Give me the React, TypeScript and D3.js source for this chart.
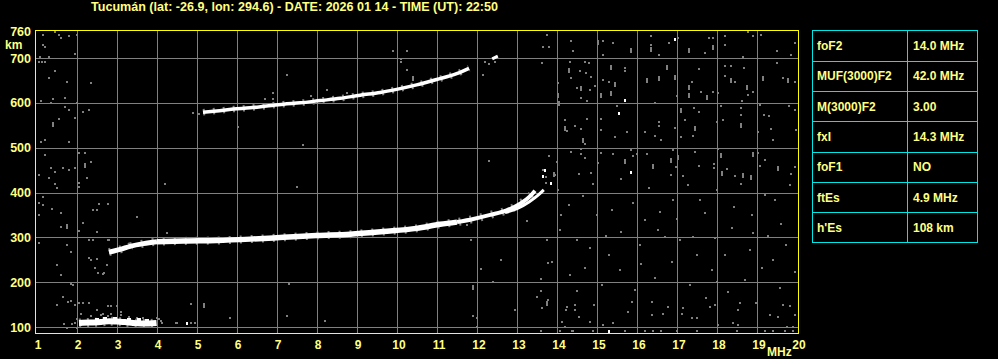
import React from 'react';
import * as d3 from 'd3';

const W = 998;
const H = 359;

const titleText = 'Tucumán (lat: -26.9, lon: 294.6) - DATE: 2026 01 14 - TIME (UT): 22:50';
const freqTicks = [1, 2, 3, 4, 5, 6, 7, 8, 9, 10, 11, 12, 13, 14, 15, 16, 17, 18, 19, 20];
const freqUnit = 'MHz';
const heightTicks = [100, 200, 300, 400, 500, 600, 700];
const heightTop = 760;
const heightUnit = 'km';

const paramNames = ['foF2', 'MUF(3000)F2', 'M(3000)F2', 'fxI', 'foF1', 'ftEs', "h'Es"];
const paramValues = ['14.0 MHz', '42.0 MHz', '3.00', '14.3 MHz', 'NO', '4.9 MHz', '108 km'];

// F2 trace (one hop), [MHz, km]
const f2Trace: [number, number][] = [
  [2.8, 267], [2.9, 269], [3.08, 273], [3.33, 280], [3.66, 286], [4.0, 290], [4.66, 292],
  [5.49, 293], [6.33, 296], [7.16, 300], [7.99, 304], [8.83, 307], [9.66, 313], [10.49, 320],
  [11.08, 329], [11.5, 334], [11.91, 341], [12.33, 350], [12.74, 360], [13.08, 375], [13.33, 392], [13.45, 404],
];
// extraordinary branch near the end of the F2 trace
const f2xTrace: [number, number][] = [
  [12.7, 355], [13.0, 364], [13.3, 379], [13.55, 396], [13.67, 406],
];
// F2 second hop
const f2HopTrace: [number, number][] = [
  [5.15, 579], [5.49, 582], [5.91, 586], [6.33, 589], [6.74, 593], [7.16, 597], [7.58, 600],
  [8.08, 605], [8.58, 610], [9.08, 617], [9.58, 623], [9.99, 630], [10.49, 640], [10.99, 652],
  [11.49, 665], [11.8, 677],
];
const f2HopTail: [number, number][] = [[12.38, 698], [12.52, 704]];
// sporadic E trace
const esTrace: [number, number][] = [
  [2.05, 109], [2.3, 110], [2.6, 111], [2.8, 113], [3.0, 112], [3.2, 111], [3.4, 109], [3.6, 108], [3.8, 108], [3.99, 109],
];
const esBumps: [number, number][] = [
  [2.5, 118], [2.7, 121], [2.95, 120], [3.3, 118], [3.55, 117], [3.75, 116],
];
const esFringe: [number, number][] = [
  [2.35, 124], [2.6, 126], [2.78, 125], [2.9, 121], [3.1, 127], [3.3, 123], [3.5, 121], [3.65, 119],
  [4.05, 117], [4.12, 110], [4.5, 108], [4.95, 110], [1.95, 110], [2.1, 104], [2.0, 118],
  [1.68, 107], [1.87, 107], [1.75, 97], [2.0, 97], [2.11, 130], [2.66, 130], [2.86, 128], [3.1, 133],
  [4.0, 120], [4.1, 113], [4.48, 108], [4.86, 110],
];

// background noise
const noiseDots: [number, number][] = [
  [13.74, 752], [13.64, 725], [13.79, 725], [14.34, 739], [14.39, 716], [15.14, 739], [15.39, 734], [15.14, 707],
  [16.35, 748], [16.35, 729], [16.56, 707], [16.79, 734], [17.03, 744], [17.69, 712], [17.8, 744], [17.91, 744],
  [18.2, 748], [18.2, 729], [18.64, 703], [18.78, 757], [18.91, 748], [19.1, 751], [19.49, 716], [19.84, 707], [19.95, 733],
  [13.62, 688], [14.33, 692], [14.7, 692], [14.8, 688], [14.58, 670], [14.73, 666], [14.84, 658], [14.36, 656],
  [14.03, 644], [14.49, 632], [14.83, 629], [14.59, 611], [14.74, 603], [14.95, 638], [15.14, 651], [15.29, 647],
  [15.7, 677], [15.7, 670], [16.45, 600], [16.99, 615], [17.37, 647], [17.55, 675], [17.59, 625], [17.89, 625],
  [18.03, 621], [18.2, 682], [18.34, 682], [18.2, 660], [18.45, 647], [18.68, 677], [18.78, 617], [18.91, 625],
  [19.51, 688], [19.64, 655], [19.95, 647], [18.62, 603], [19.08, 595],
  [15.51, 593], [14.2, 562], [14.24, 538], [14.45, 548], [14.59, 541], [14.74, 565], [14.7, 508], [15.09, 565],
  [15.09, 539], [15.45, 523], [15.74, 536], [16.55, 558], [16.55, 548], [16.2, 536], [16.45, 526], [16.59, 517],
  [16.95, 543], [17.2, 562], [17.43, 588], [17.56, 580], [17.39, 526], [17.1, 523], [17.99, 558], [18.14, 562],
  [18.09, 593], [18.59, 588], [18.6, 573], [19.03, 536], [19.18, 573], [19.29, 571], [19.34, 541], [19.39, 517],
  [19.79, 593], [19.96, 584], [19.98, 539],
  [13.81, 481], [14.0, 469], [14.34, 491], [14.59, 496], [14.59, 486], [14.7, 478], [14.56, 441], [14.84, 444],
  [15.03, 465], [15.1, 487], [15.41, 486], [15.84, 495], [15.89, 481], [15.99, 486], [16.24, 486], [16.89, 495],
  [16.98, 456], [16.84, 439], [17.16, 437], [17.45, 491], [17.56, 459], [17.93, 464], [17.93, 454], [18.03, 496],
  [18.26, 452], [18.45, 437], [19.03, 489], [19.08, 459], [19.21, 472], [19.84, 441], [19.95, 456],
  [13.73, 421], [14.03, 406], [14.3, 372], [14.65, 392], [15.0, 350], [15.38, 361], [15.9, 377], [16.2, 339],
  [16.58, 356], [16.9, 383], [17.28, 417], [17.58, 383], [18.0, 406], [18.43, 368], [18.88, 350], [19.45, 383],
  [19.83, 417], [14.08, 316], [14.5, 294], [14.83, 276], [15.23, 303], [15.6, 312], [16.08, 283], [16.53, 316],
  [17.08, 294], [17.5, 261], [17.95, 298], [18.38, 321], [18.83, 272], [19.28, 303], [19.73, 283], [13.88, 245],
  [14.33, 216], [14.7, 232], [15.13, 194], [15.58, 227], [15.95, 183], [16.45, 209], [16.88, 245], [17.33, 194],
  [17.88, 227], [18.28, 178], [18.7, 205], [19.13, 232], [19.58, 187], [19.95, 223], [13.78, 160], [14.23, 138],
  [14.93, 149], [15.78, 133], [16.38, 156], [17.15, 142], [17.73, 165], [18.53, 138], [18.98, 154], [19.83, 147],
  [14.1, 350], [14.9, 420], [15.6, 430], [16.3, 410], [17.0, 340], [17.7, 355], [18.2, 260], [18.6, 420],
  [19.2, 395], [19.6, 330], [15.3, 260], [16.7, 300], [18.0, 200], [19.4, 250], [14.5, 180], [16.1, 240],
  [17.4, 300], [18.9, 310],
  [12.95, 138], [13.62, 142], [14.24, 145], [14.45, 149], [14.45, 138], [14.56, 123], [14.83, 112], [14.2, 101],
  [14.37, 92], [14.12, 112], [15.16, 104], [15.41, 108], [15.87, 156], [16.37, 127], [16.66, 130], [16.78, 145],
  [17.12, 130], [17.37, 119], [17.49, 119], [17.83, 145], [17.95, 149], [18.03, 104], [18.41, 108], [18.53, 104],
  [18.58, 153], [19.33, 127], [19.53, 123], [19.66, 149], [19.95, 127], [19.74, 101], [19.91, 101],
  [13.6, 91], [14.07, 91], [14.4, 91], [14.9, 91], [15.7, 91], [16.2, 91], [16.4, 91], [16.6, 91], [17.0, 91],
  [17.5, 91], [18.5, 91], [19.2, 91], [19.4, 91], [19.7, 91], [19.9, 91],
  [1.14, 751], [1.14, 729], [1.2, 724], [1.45, 758], [1.55, 751], [1.6, 744], [1.8, 748], [1.99, 751], [1.95, 710],
  [1.08, 703], [1.3, 703], [1.05, 692], [1.12, 692], [1.19, 692], [1.45, 670], [1.3, 656], [1.74, 647], [2.34, 644],
  [1.41, 609], [1.7, 610], [1.09, 603], [1.35, 599], [1.7, 590], [1.8, 584], [1.99, 599], [2.14, 580], [2.29, 584],
  [1.55, 563], [1.95, 567], [1.8, 513], [1.09, 513], [1.2, 516], [1.2, 484], [2.2, 487], [2.06, 487], [2.34, 469],
  [1.35, 455], [1.45, 446], [1.64, 455], [1.8, 450], [1.95, 455], [1.05, 438], [1.3, 433], [2.24, 433], [2.06, 422],
  [1.45, 418], [1.49, 409], [2.05, 413], [1.14, 391], [1.14, 372], [1.38, 363], [1.6, 355], [1.6, 324], [1.05, 377],
  [1.04, 350], [2.39, 360], [2.49, 360], [2.55, 374], [2.78, 374], [2.14, 333], [2.04, 314], [2.49, 311], [1.06, 288],
  [1.74, 284], [1.84, 267], [2.29, 295], [2.39, 293], [2.29, 255], [2.34, 250], [2.49, 252], [2.78, 294], [2.74, 238],
  [1.49, 238], [1.6, 216], [2.45, 231], [2.53, 220], [2.66, 218], [1.84, 197], [1.91, 194], [1.66, 168], [2.06, 153],
  [2.16, 153], [2.29, 153], [1.49, 148], [1.84, 157], [2.49, 138], [2.78, 147], [2.99, 147], [1.78, 156], [1.95, 150],
  [4.24, 310], [2.79, 294], [2.67, 220], [7.3, 197], [2.85, 147], [11.74, 328], [11.84, 293], [12.09, 229],
  [13.24, 337], [13.74, 293], [13.78, 242], [13.59, 207], [13.59, 181], [13.49, 168], [7.24, 661], [6.89, 621],
  [6.89, 608], [6.7, 608], [8.24, 629], [7.84, 616], [8.74, 623], [9.89, 716], [10.24, 716], [10.1, 697], [10.1, 690],
  [10.24, 673], [12.2, 692], [12.3, 687], [12.45, 692], [12.14, 661], [6.03, 546], [7.65, 506], [7.5, 412], [4.2, 420],
  [3.5, 345], [12.3, 470], [12.6, 250], [12.4, 200], [8.2, 113], [4.85, 152], [5.83, 120], [7.24, 124], [12.0, 120],
  [11.9, 125], [12.0, 100], [4.9, 578], [5.05, 575], [13.66, 450], [13.72, 435], [13.95, 439],
];
const noiseTall: [number, number][] = [
  [15.03, 736], [15.84, 718], [16.35, 719], [17.3, 718], [17.89, 724], [14.29, 673], [14.59, 632], [14.03, 617],
  [14.05, 600], [15.09, 617], [15.44, 642], [15.34, 681], [15.34, 623], [16.24, 651], [16.56, 655], [16.74, 681],
  [16.95, 658], [17.31, 636], [17.31, 617], [17.74, 614], [18.34, 651], [18.74, 636], [19.14, 655], [19.78, 651],
  [14.2, 543], [14.66, 517], [17.1, 584], [17.45, 543], [18.59, 550], [13.93, 441], [15.7, 471], [16.41, 458],
  [16.84, 472], [17.03, 480], [18.09, 484], [18.13, 443], [18.64, 439], [18.84, 435], [18.89, 486], [19.53, 454],
  [13.74, 153], [1.39, 552], [2.2, 461], [1.74, 325], [5.18, 148], [11.89, 190], [10.39, 655],
];
const whiteDots: [number, number][] = [
  [16.95, 742], [15.69, 606], [15.55, 578], [13.7, 450], [13.64, 437], [15.84, 446], [15.3, 90], [4.74, 110], [13.84, 422],
];

const FONT = "'Liberation Sans', Arial, Helvetica, sans-serif";
const TXT = '#ffff80';
const FRAME = '#ffff00';
const GRID = '#808080';
const NOISE = '#808080';
const CYAN = '#00e6e6';

export default function App() {
  const x = d3.scaleLinear().domain([1, 20]).range([37, 797]);
  const y = d3.scaleLinear().domain([100, 700]).range([327, 58]);
  const line = d3
    .line<[number, number]>()
    .x((d) => x(d[0]))
    .y((d) => y(d[1]))
    .curve(d3.curveMonotoneX);

  const frameL = x(1) - 1.5;
  const frameR = x(20) + 1.5;
  const frameT = Math.round(y(heightTop)) - 0.5;
  const frameB = y(100) + 6.5;

  const seg = (pts: [number, number][], lo: number, hi: number) => pts.filter((d) => d[0] >= lo && d[0] <= hi);

  const tableX0 = 812.5;
  const tableX1 = 907.5;
  const tableX2 = 977.5;
  const tableY0 = 30.5;
  const rowH = 30.33;

  return (
    <svg
      width={W}
      height={H}
      style={{ position: 'fixed', left: 0, top: 0, display: 'block' }}
      shapeRendering="crispEdges"
    >
      <rect x={0} y={0} width={W} height={H} fill="#000" />
      <text
        x={91}
        y={10.5}
        fill={TXT}
        fontFamily={FONT}
        fontWeight="bold"
        fontSize={12}
        textLength={407}
        lengthAdjust="spacingAndGlyphs"
      >
        {titleText}
      </text>

      {/* grid */}
      {heightTicks.map((h) => (
        <line key={'gh' + h} x1={frameL} x2={frameR} y1={Math.round(y(h)) + 0.5} y2={Math.round(y(h)) + 0.5} stroke={GRID} />
      ))}
      {freqTicks
        .filter((f) => f > 1 && f < 20)
        .map((f) => (
          <line key={'gv' + f} x1={Math.round(x(f)) + 0.5} x2={Math.round(x(f)) + 0.5} y1={frameT} y2={frameB} stroke={GRID} />
        ))}

      {/* noise */}
      {noiseDots.map((d, i) => (
        <rect key={'n' + i} x={Math.round(x(d[0])) - 1} y={Math.round(y(d[1])) - 1} width={2} height={2} fill={NOISE} />
      ))}
      {noiseTall.map((d, i) => (
        <rect key={'t' + i} x={Math.round(x(d[0])) - 1} y={Math.round(y(d[1])) - 2} width={2} height={5} fill={NOISE} />
      ))}
      {esFringe.map((d, i) => (
        <rect key={'ef' + i} x={Math.round(x(d[0])) - 1} y={Math.round(y(d[1])) - 1} width={2} height={2} fill={NOISE} />
      ))}

      {/* trace fringes */}
      <g fill="none" stroke={NOISE} shapeRendering="auto">
        <path d={line(f2Trace) || ''} strokeWidth={8} strokeDasharray="2 9" />
        <path d={line(f2HopTrace) || ''} strokeWidth={6.5} strokeDasharray="2 8" />
        <path d={line(esTrace) || ''} strokeWidth={9} strokeDasharray="2 6" />
      </g>

      {/* traces */}
      <g fill="none" stroke="#fff" shapeRendering="auto">
        <path d={line(seg(f2Trace, 2.8, 4.0)) || ''} strokeWidth={5} />
        <path d={line(seg(f2Trace, 4.0, 11.6)) || ''} strokeWidth={5.5} />
        <path d={line(seg(f2Trace, 11.5, 14)) || ''} strokeWidth={4} />
        <path d={line(f2xTrace) || ''} strokeWidth={3} />
        <path d={line(f2HopTrace) || ''} strokeWidth={3.5} />
        <path d={line(f2HopTail) || ''} strokeWidth={3} />
        <path d={line(esTrace) || ''} strokeWidth={6} />
      </g>
      {esBumps.map((d, i) => (
        <rect key={'eb' + i} x={Math.round(x(d[0])) - 2} y={Math.round(y(d[1])) - 1} width={4} height={3} fill="#fff" />
      ))}
      {whiteDots.map((d, i) => (
        <rect key={'w' + i} x={Math.round(x(d[0])) - 1} y={Math.round(y(d[1])) - 1} width={2} height={3} fill="#fff" />
      ))}

      {/* frame */}
      <rect x={frameL} y={frameT} width={frameR - frameL} height={frameB - frameT} fill="none" stroke={FRAME} />

      {/* y labels */}
      <g fill={TXT} fontFamily={FONT} fontWeight="bold" fontSize={12.5} textAnchor="end">
        {heightTicks.map((h) => (
          <text key={'yl' + h} x={31} y={y(h) + 4.5}>
            {h}
          </text>
        ))}
        <text x={31} y={y(heightTop) + 4.5}>
          {heightTop}
        </text>
      </g>
      <text x={5} y={49} fill={TXT} fontFamily={FONT} fontWeight="bold" fontSize={12}>
        {heightUnit}
      </text>

      {/* x labels */}
      <g fill={TXT} fontFamily={FONT} fontWeight="bold" fontSize={12} textAnchor="middle">
        {freqTicks.map((f) => (
          <text key={'xl' + f} x={x(f) + (f >= 10 ? 2 : 1)} y={348.5}>
            {f}
          </text>
        ))}
      </g>
      <text x={767} y={355.5} fill={TXT} fontFamily={FONT} fontWeight="bold" fontSize={12}>
        {freqUnit}
      </text>

      {/* parameter table */}
      <g stroke={CYAN} fill="none">
        <rect x={tableX0} y={tableY0} width={tableX2 - tableX0} height={rowH * paramNames.length} />
        <line x1={tableX1} x2={tableX1} y1={tableY0} y2={tableY0 + rowH * paramNames.length} />
        {paramNames.slice(1).map((_, i) => (
          <line
            key={'tr' + i}
            x1={tableX0}
            x2={tableX2}
            y1={Math.round(tableY0 + rowH * (i + 1)) + 0.5}
            y2={Math.round(tableY0 + rowH * (i + 1)) + 0.5}
          />
        ))}
      </g>
      <g fill={TXT} fontFamily={FONT} fontWeight="bold" fontSize={12}>
        {paramNames.map((n, i) => (
          <text key={'pn' + i} x={817} y={tableY0 + rowH * i + rowH / 2 + 4.5}>
            {n}
          </text>
        ))}
        {paramValues.map((v, i) => (
          <text key={'pv' + i} x={913} y={tableY0 + rowH * i + rowH / 2 + 4.5}>
            {v}
          </text>
        ))}
      </g>
    </svg>
  );
}
